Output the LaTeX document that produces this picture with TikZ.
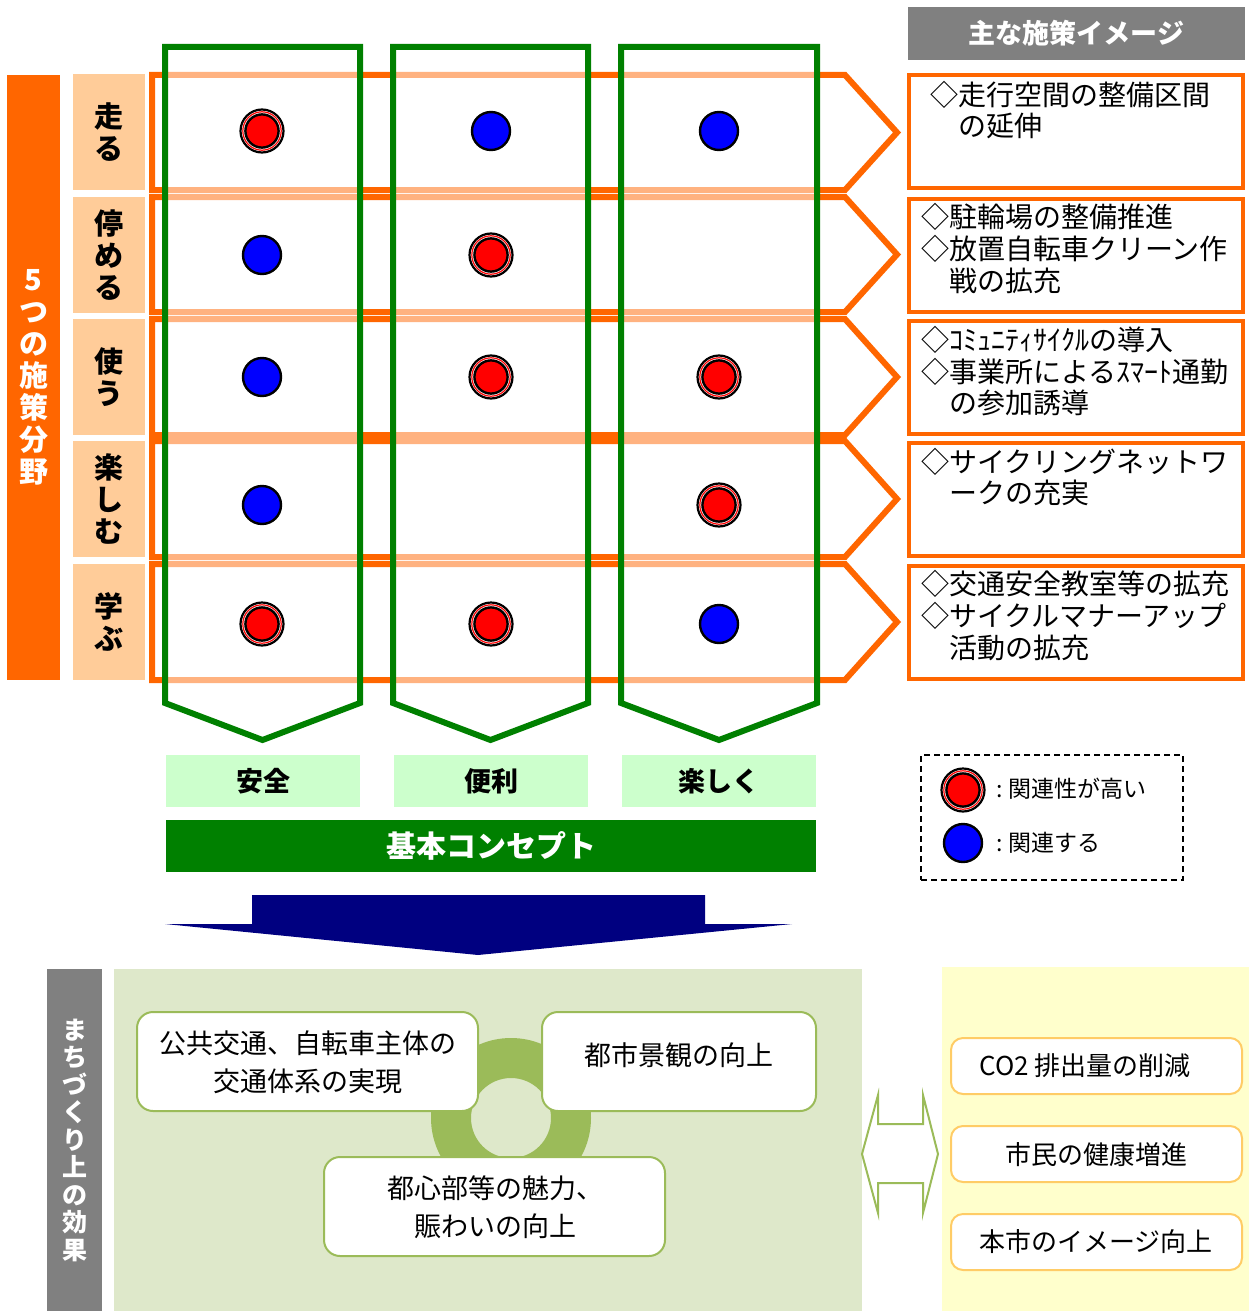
\documentclass[tikz,border=0pt]{standalone}
\usepackage{fontspec}
\setmainfont{Noto Sans CJK JP}
\definecolor{orng}{HTML}{FF6600}
\definecolor{peach}{HTML}{FFCC99}
\definecolor{grn}{HTML}{008000}
\definecolor{ltgrn}{HTML}{CCFFCC}
\definecolor{navyc}{HTML}{000080}
\definecolor{grayc}{HTML}{808080}
\definecolor{panel}{HTML}{DEE8CA}
\definecolor{ringc}{HTML}{9BBB59}
\definecolor{yell}{HTML}{FFFFCC}
\definecolor{ybord}{HTML}{FFCC66}
\begin{document}
\begin{tikzpicture}[x=1pt,y=-1pt,
  every node/.style={inner sep=0pt, outer sep=0pt},
  arrowrow/.style={draw=orng, line width=6pt, fill=white, line join=miter},
  column/.style={draw=grn, line width=6pt, fill=white, fill opacity=0.5, line join=miter},
  catbox/.style={fill=peach, minimum width=72pt, minimum height=116pt, align=center, font=\fontsize{29}{32}\selectfont\bfseries},
  measbox/.style={draw=orng, line width=4pt, fill=white, minimum width=334pt, minimum height=113pt},
  meastxt/.style={anchor=base west, font=\fontsize{28}{32}\selectfont},
  redc/.style={circle, minimum size=43pt, draw=black, line width=2.2pt, fill=white,
     path picture={\draw[red, line width=1.2pt] (path picture bounding box.center) circle[radius=19.2pt];
                   \draw[black, fill=red, line width=2.4pt] (path picture bounding box.center) circle[radius=16.6pt];}},
  bluec/.style={circle, minimum size=38pt, draw=black, line width=2.4pt, fill=blue},
  conbox/.style={fill=ltgrn, minimum width=194pt, minimum height=52pt, font=\fontsize{27}{30}\selectfont\bfseries},
  effbox/.style={draw=ringc, line width=2pt, fill=white, rounded corners=16pt, minimum height=99pt},
  efftxt/.style={align=center, font=\fontsize{27}{38}\selectfont},
  ybox/.style={draw=ybord, line width=2pt, fill=white, rounded corners=12pt, minimum width=291pt, minimum height=56pt},
  ytxt/.style={font=\fontsize{26}{30}\selectfont},
  legtxt/.style={anchor=west, font=\fontsize{23}{26}\selectfont}
]
\useasboundingbox (0,0) rectangle (1249,1311);

% left orange bar
\node[fill=orng, minimum width=53pt, minimum height=605pt, text=white, align=center,
      font=\fontsize{29}{32}\selectfont\bfseries] (bar) at (33.5,377.5) {5\\つ\\の\\施\\策\\分\\野};

% category boxes
\node[catbox] (cat1) at (109,132) {走\\る};
\node[catbox] (cat2) at (109,255) {停\\め\\る};
\node[catbox] (cat3) at (109,377) {使\\う};
\node[catbox] (cat4) at (109,499) {楽\\し\\む};
\node[catbox] (cat5) at (109,622) {学\\ぶ};

% orange row arrows
\foreach \t/\b in {75/190,197/312,319/435,441/557,564/680}{
  \draw[arrowrow] (152,\t) -- (845,\t) -- (897,{(\t+\b)/2}) -- (845,\b) -- (152,\b) -- cycle;
}

% green columns
\foreach \l/\r in {165/360,393/588,621/817}{
  \draw[column] (\l,47) -- (\r,47) -- (\r,703) -- ({(\l+\r)/2},740) -- (\l,703) -- cycle;
}

% circles
\node[redc]  (c11) at (262,131) {};
\node[bluec] (c12) at (491,131) {};
\node[bluec] (c13) at (719,131) {};
\node[bluec] (c21) at (262,255) {};
\node[redc]  (c22) at (491,255) {};
\node[bluec] (c31) at (262,377) {};
\node[redc]  (c32) at (491,377) {};
\node[redc]  (c33) at (719,377) {};
\node[bluec] (c41) at (262,505) {};
\node[redc]  (c43) at (719,505) {};
\node[redc]  (c51) at (262,624) {};
\node[redc]  (c52) at (491,624) {};
\node[bluec] (c53) at (719,624) {};

% header
\node[fill=grayc, minimum width=337pt, minimum height=53pt, text=white,
      font=\fontsize{27}{30}\selectfont\bfseries] (head) at (1076.5,33.5) {主な施策イメージ};

% measure boxes
\node[measbox] (m1) at (1076,131.5) {};
\node[measbox] (m2) at (1076,255) {};
\node[measbox] (m3) at (1076,377) {};
\node[measbox] (m4) at (1076,499) {};
\node[measbox] (m5) at (1076,622) {};

\node[meastxt] (t11) at (930,106) {◇走行空間の整備区間};
\node[meastxt] (t12) at (958,136) {の延伸};
\node[meastxt] (t21) at (921,227) {◇駐輪場の整備推進};
\node[meastxt] (t22) at (921,259) {◇放置自転車クリーン作};
\node[meastxt] (t23) at (949,291) {戦の拡充};
\node[meastxt] (t31) at (921,350) {◇ｺﾐｭﾆﾃｨｻｲｸﾙの導入};
\node[meastxt] (t32) at (921,382) {◇事業所によるｽﾏｰﾄ通勤};
\node[meastxt] (t33) at (949,413) {の参加誘導};
\node[meastxt] (t41) at (921,472) {◇サイクリングネットワ};
\node[meastxt] (t42) at (949,503) {ークの充実};
\node[meastxt] (t51) at (921,594) {◇交通安全教室等の拡充};
\node[meastxt] (t52) at (921,626) {◇サイクルマナーアップ};
\node[meastxt] (t53) at (949,658) {活動の拡充};

% concept boxes
\node[conbox] (k1) at (263,781) {安全};
\node[conbox] (k2) at (491,781) {便利};
\node[conbox] (k3) at (719,781) {楽しく};
\node[fill=grn, minimum width=650pt, minimum height=52pt, text=white,
      font=\fontsize{30}{33}\selectfont\bfseries] (kihon) at (491,846) {基本コンセプト};

% navy arrow
\fill[navyc] (252,895) -- (705,895) -- (705,924) -- (792,924) -- (478,955) -- (165,924) -- (252,924) -- cycle;

% legend
\node[draw=black, dashed, dash pattern=on 6pt off 4pt, line width=1.6pt, minimum width=262pt, minimum height=125pt] (leg) at (1052,817.5) {};
\node[redc] (lr) at (963,790) {};
\node[bluec] (lb) at (963,843) {};
\node[legtxt] (lrt) at (996,789) {:\hspace{6pt}関連性が高い};
\node[legtxt] (lbt) at (996,843) {:\hspace{6pt}関連する};

% bottom panels
\node[fill=grayc, minimum width=55pt, minimum height=342pt, text=white, align=center,
      font=\fontsize{25}{27.5}\selectfont\bfseries] (mbar) at (74.5,1140) {ま\\ち\\づ\\く\\り\\上\\の\\効\\果};
\node[fill=panel, minimum width=748pt, minimum height=342pt] (pan) at (488,1140) {};
\node[fill=yell, minimum width=307pt, minimum height=344pt] (ypan) at (1095.5,1139) {};

% ring
\fill[ringc, even odd rule] (511,1118) circle[radius=80pt] (511,1118) circle[radius=40pt];

% effect boxes
\node[effbox, minimum width=341pt] (ea) at (307.5,1061.5) {};
\node[efftxt] (eat) at (308,1062) {公共交通、自転車主体の\\交通体系の実現};
\node[effbox, minimum width=274pt] (eb) at (679,1061.5) {};
\node[efftxt] (ebt) at (679,1055) {都市景観の向上};
\node[effbox, minimum width=341pt] (ec) at (494.5,1206.5) {};
\node[efftxt] (ect) at (495,1207) {都心部等の魅力、\\賑わいの向上};

% double arrow
\draw[ringc, line width=2pt, fill=white, line join=miter]
  (878,1095) -- (878,1124) -- (923,1124) -- (923,1095) -- (938,1154) -- (923,1213) -- (923,1183)
  -- (878,1183) -- (878,1213) -- (862,1154) -- cycle;

% yellow boxes
\node[ybox] (y1) at (1096.5,1066) {};
\node[ytxt] (y1t) at (1085,1066) {CO2 排出量の削減};
\node[ybox] (y2) at (1096.5,1154) {};
\node[ytxt] (y2t) at (1096,1155) {市民の健康増進};
\node[ybox] (y3) at (1096.5,1242) {};
\node[ytxt] (y3t) at (1096,1242) {本市のイメージ向上};
\end{tikzpicture}
\end{document}
